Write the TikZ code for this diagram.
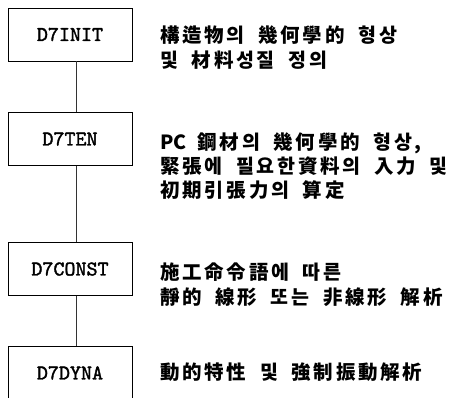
\documentclass[tikz,border=0pt]{standalone}
\usepackage{fontspec}
\newfontfamily\krfont{Noto Sans CJK KR}[WordSpace=1.9,LetterSpace=14]
\newfontfamily\krplain{Noto Sans CJK KR}
\newfontfamily\lblfont{lmmono10-regular.otf}[FakeBold=1.6]
\begin{document}
\begin{tikzpicture}[x=1pt,y=-1pt,
  stepbox/.style={draw, line width=0.8pt, minimum width=124pt, minimum height=53pt,
    inner sep=0pt, font=\lblfont\fontsize{21}{21}\selectfont},
  desc/.style={anchor=west, inner sep=0pt, font=\krfont\bfseries\fontsize{19.5}{19.5}\selectfont},
  link/.style={line width=0.7pt, black!80}]
\useasboundingbox (0,0) rectangle (459,398);
\node[stepbox] (b1) at (70,34.5) {D7INIT};
\node[stepbox] (b2) at (70,139) {D7TEN};
\node[stepbox] (b3) at (70,269) {D7CONST};
\node[stepbox] (b4) at (70,373) {D7DYNA};
\draw[link] ([xshift=6pt]b1.south) -- ([xshift=6pt]b2.north);
\draw[link] ([xshift=6pt]b2.south) -- ([xshift=6pt]b3.north);
\draw[link] ([xshift=6pt]b3.south) -- ([xshift=6pt]b4.north);
\node[desc] (t11) at (160,35) {構造物의 幾何學的 형상};
\node[desc] (t12) at (160,60) {및 材料성질 정의};
\node[desc] (t21) at (160,143) {{\krplain\bfseries PC}\hspace{11pt}鋼材의 幾何學的 형상,};
\node[desc] (t22) at (160,166.5) {緊張에 필요한資料의 入力 및};
\node[desc] (t23) at (160,190) {初期引張力의 算定};
\node[desc] (t31) at (160,272) {施工命令語에 따른};
\node[desc] (t32) at (160,297) {靜的 線形 또는 非線形 解析};
\node[desc] (t41) at (160,372) {動的特性 및 強制振動解析};
\end{tikzpicture}
\end{document}
